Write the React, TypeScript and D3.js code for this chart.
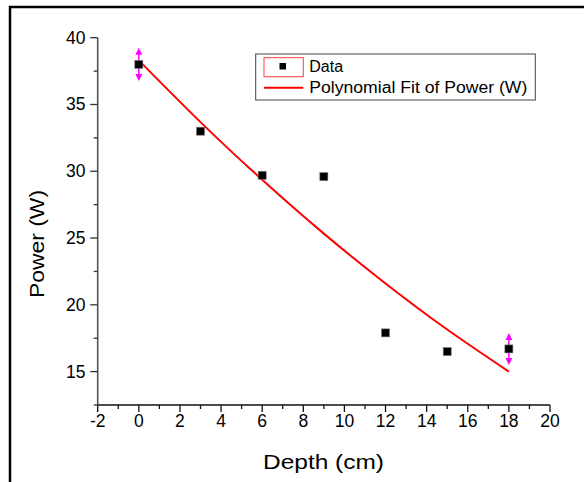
import React from "react";
import * as d3 from "d3";

const depth = [0, 3, 6, 9, 12, 15, 18];
const power = [38, 33, 29.7, 29.6, 17.9, 16.5, 16.7];
const errIdx = [0, 6];
const errVal = [1.25, 1.2];
const fitX = [0, 3, 6, 9, 12, 15, 18];
const fitY = [38.3, 33.68, 29.36, 25.33, 21.6, 18.15, 15.0];
const xMajor = [-2, 0, 2, 4, 6, 8, 10, 12, 14, 16, 18, 20];
const xMinor = [-1, 1, 3, 5, 7, 9, 11, 13, 15, 17, 19];
const yMajor = [15, 20, 25, 30, 35, 40];
const yMinor = [12.5, 17.5, 22.5, 27.5, 32.5, 37.5];

const FONT = "'Liberation Sans', Arial, sans-serif";

export default function App() {
  const x = d3.scaleLinear().domain([-2, 20]).range([97.7, 550]);
  const y = d3.scaleLinear().domain([12.5, 40]).range([405, 37.7]);
  const fitLine = d3
    .line<number>()
    .x((_, i) => x(fitX[i]))
    .y((d) => y(d))
    .curve(d3.curveNatural)(fitY) as string;

  const arrow = (cx: number, tipY: number, dir: number) => {
    const h = 7;
    const w = 3.5;
    return `M${cx},${tipY} L${cx - w},${tipY - dir * h} L${cx + w},${tipY - dir * h} Z`;
  };

  return (
    <svg
      width={584}
      height={482}
      style={{ position: "absolute", left: 0, top: 0, background: "#fff" }}
      fontFamily={FONT}
    >
      <rect x={0} y={0} width={584} height={482} fill="#fff" />
      {/* frame */}
      <line x1={9} x2={584} y1={7} y2={7} stroke="#000" strokeWidth={2.5} />
      <line x1={10} x2={10} y1={6} y2={482} stroke="#000" strokeWidth={2.5} />

      {/* axes */}
      <line x1={x(-2)} x2={x(20)} y1={405} y2={405} stroke="#111" strokeWidth={1.3} />
      <line x1={x(-2)} x2={x(-2)} y1={y(40)} y2={405} stroke="#555" strokeWidth={1.6} />
      {xMajor.map((v) => (
        <g key={"xM" + v}>
          <line x1={x(v)} x2={x(v)} y1={405} y2={412} stroke="#111" strokeWidth={1.3} />
          <text x={x(v)} y={426.5} textAnchor="middle" fontSize={17.5} fill="#000">
            {v}
          </text>
        </g>
      ))}
      {xMinor.map((v) => (
        <line key={"xm" + v} x1={x(v)} x2={x(v)} y1={405} y2={409} stroke="#111" strokeWidth={1.3} />
      ))}
      {yMajor.map((v) => (
        <g key={"yM" + v}>
          <line x1={x(-2) - 7.5} x2={x(-2)} y1={y(v)} y2={y(v)} stroke="#333" strokeWidth={1.3} />
          <text x={85.5} y={y(v) + 6} textAnchor="end" fontSize={17.5} fill="#000">
            {v}
          </text>
        </g>
      ))}
      {yMinor.map((v) => (
        <line key={"ym" + v} x1={x(-2) - 4} x2={x(-2)} y1={y(v)} y2={y(v)} stroke="#333" strokeWidth={1.3} />
      ))}

      {/* titles */}
      <text
        x={323.5}
        y={468.5}
        textAnchor="middle"
        fontSize={20.5}
        textLength={121}
        lengthAdjust="spacingAndGlyphs"
        fill="#000"
      >
        Depth (cm)
      </text>
      <text
        transform="translate(44,244) rotate(-90)"
        textAnchor="middle"
        fontSize={20}
        textLength={108}
        lengthAdjust="spacingAndGlyphs"
        fill="#000"
      >
        Power (W)
      </text>

      {/* fit line */}
      <path d={fitLine} fill="none" stroke="#ff0000" strokeWidth={2} />

      {/* error bars */}
      {errIdx.map((i, k) => {
        const cx = x(depth[i]);
        const top = y(power[i] + errVal[k]);
        const bot = y(power[i] - errVal[k]);
        return (
          <g key={"e" + i}>
            <line x1={cx} x2={cx} y1={top + 2} y2={bot - 2} stroke="#ff00ff" strokeWidth={1.5} />
            <path d={arrow(cx, top, -1)} fill="#ff00ff" />
            <path d={arrow(cx, bot, 1)} fill="#ff00ff" />
          </g>
        );
      })}

      {/* data points */}
      {depth.map((d, i) => (
        <rect
          key={"p" + i}
          x={x(d) - 4}
          y={y(power[i]) - 4}
          width={8}
          height={8}
          fill="#000"
          stroke="#777"
          strokeWidth={0.6}
        />
      ))}

      {/* legend */}
      <rect x={255.7} y={54} width={279.6} height={46} fill="#fff" stroke="#444" strokeWidth={1} />
      <rect x={264} y={57.7} width={39.3} height={19} fill="none" stroke="#ff4040" strokeWidth={1} />
      <rect x={279.5} y={63} width={6.5} height={6.5} fill="#000" />
      <line x1={264} x2={303.3} y1={87.7} y2={87.7} stroke="#ff0000" strokeWidth={2} />
      <text x={309.3} y={72.3} fontSize={16} fill="#000">
        Data
      </text>
      <text
        x={309.3}
        y={93.3}
        fontSize={16}
        textLength={218}
        lengthAdjust="spacingAndGlyphs"
        fill="#000"
      >
        Polynomial Fit of Power (W)
      </text>
    </svg>
  );
}
